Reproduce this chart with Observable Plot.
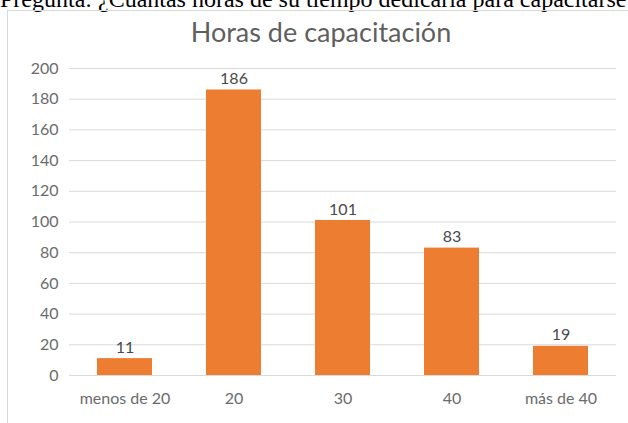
<!DOCTYPE html>
<html>
<head>
<meta charset="utf-8">
<script src="https://cdn.jsdelivr.net/npm/d3@7"></script>
<script src="https://cdn.jsdelivr.net/npm/@observablehq/plot@0.6"></script>
<style>
  html, body { margin: 0; padding: 0; background: #fff; width: 628px; height: 423px; overflow: hidden; }
  #question { position: absolute; left: 0; top: -13px; font-family: "Liberation Serif", "Times New Roman", serif; font-size: 24px; line-height: 24px; color: #000; white-space: nowrap; }
  #frame { position: absolute; left: 7px; top: 10px; width: 640px; height: 430px; border-left: 1px solid #d9d9d9; border-top: 1px solid #d9d9d9; }
  #title { position: absolute; left: 0; width: 642px; top: 18px; text-align: center; font-family: Lato, "Open Sans", sans-serif; font-size: 27px; line-height: 28px; color: #5f5f5f; }
  #chart { position: absolute; left: 0; top: 45px; }
</style>
</head>
<body>
<div id="question">Pregunta: ¿Cuántas horas de su tiempo dedicaría para capacitarse?</div>
<div id="frame"></div>
<div id="title">Horas de capacitación</div>
<div id="chart"></div>
<script>
const categories = ["menos de 20", "20", "30", "40", "más de 40"];
const values = [11, 186, 101, 83, 19];
const yTicks = [0, 20, 40, 60, 80, 100, 120, 140, 160, 180, 200];

const data = categories.map((c, i) => ({category: c, value: values[i]}));

const chart = Plot.plot({
  width: 628,
  height: 378,
  marginLeft: 69,
  marginRight: 12,
  marginTop: 23,
  marginBottom: 48,
  style: {fontFamily: "Lato, 'Open Sans', sans-serif", fontSize: "16px", color: "#6b6b6b", background: "transparent"},
  x: {domain: categories, paddingInner: 0.5, paddingOuter: 0.25, label: null},
  y: {domain: [0, 200], ticks: yTicks, label: null},
  marks: [
    Plot.gridY(yTicks, {stroke: "#d9d9d9", strokeOpacity: 1}),
    Plot.barY(data, {x: "category", y: "value", fill: "#ED7D31"}),
    Plot.text(data, {x: "category", y: "value", text: d => String(d.value), dy: -11, fill: "#4a4a4a", fontSize: 16}),
    Plot.axisX({tickSize: 0, tickPadding: 17, fill: "#6b6b6b", fontSize: 16}),
    Plot.axisY({ticks: yTicks, tickSize: 0, tickPadding: 11, fill: "#6b6b6b", fontSize: 16})
  ]
});
document.getElementById("chart").appendChild(chart);
</script>
</body>
</html>
